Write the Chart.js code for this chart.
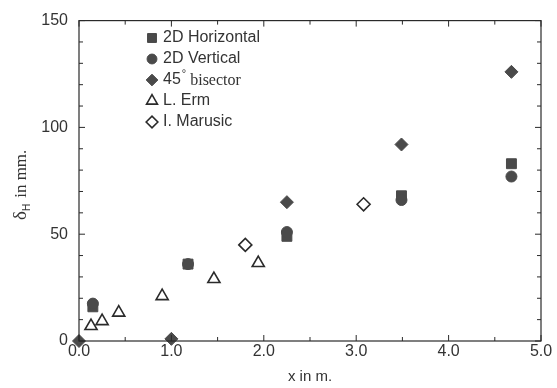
<!DOCTYPE html>
<html lang="en">
<head>
  <meta charset="UTF-8" />
  <title>Boundary layer thickness vs. distance</title>
  <style>
    body { margin: 0; background: #fff; }
    #wrap { width: 557px; height: 388px; }
  </style>
  <script src="https://cdn.jsdelivr.net/npm/chart.js"></script>
</head>
<body>
  <div id="wrap"><canvas id="deltaChart" width="557" height="388"></canvas></div>

  <script>
    // measured thickness (mm) against streamwise position (m)
    const horizX = [0.15, 1.18, 2.25, 3.49, 4.68];
    const horizY = [16, 36, 49, 68, 83];
    const vertX = [0.15, 1.18, 2.25, 3.49, 4.68];
    const vertY = [17.5, 36, 51, 66, 77];
    const bisectX = [0, 1.0, 2.25, 3.49, 4.68];
    const bisectY = [0, 1, 65, 92, 126];
    const ermX = [0.13, 0.25, 0.43, 0.90, 1.46, 1.94];
    const ermY = [7, 9.3, 13.3, 21, 29, 36.5];
    const marusicX = [1.80, 3.08];
    const marusicY = [45, 64];

    const xTicks = [0, 1, 2, 3, 4, 5];
    const yTicks = [0, 50, 100, 150];

    const sans = '"Liberation Sans", Arial, sans-serif';
    const serif = '"Liberation Serif", "Times New Roman", serif';
    const dark = '#4a4a4a';
    const ink = '#2a2a2a';

    const pts = (xs, ys) => xs.map((x, i) => ({ x: x, y: ys[i] }));

    const datasets = [
      { label: '2D Vertical', data: pts(vertX, vertY), pointStyle: 'circle', pointRadius: 5.5,
        backgroundColor: dark, borderColor: dark, borderWidth: 1 },
      { label: '2D Horizontal', data: pts(horizX, horizY), pointStyle: 'rect', pointRadius: 7,
        backgroundColor: dark, borderColor: dark, borderWidth: 1 },
      { label: '45° bisector', data: pts(bisectX, bisectY), pointStyle: 'rectRot', pointRadius: 6.5,
        backgroundColor: dark, borderColor: dark, borderWidth: 1 },
      { label: 'L. Erm', data: pts(ermX, ermY), pointStyle: 'triangle', pointRadius: 7,
        backgroundColor: '#fff', borderColor: ink, borderWidth: 1.6 },
      { label: 'I. Marusic', data: pts(marusicX, marusicY), pointStyle: 'rectRot', pointRadius: 6.5,
        backgroundColor: '#fff', borderColor: ink, borderWidth: 1.6 }
    ];
    datasets.forEach(d => { d.clip = false; d.pointHoverRadius = d.pointRadius; });

    // inward ticks on all four sides, frame, y title and the legend box
    const decor = {
      id: 'decor',
      afterDraw(chart) {
        const ctx = chart.ctx;
        const a = chart.chartArea;
        const xs = chart.scales.x, ys = chart.scales.y;
        ctx.save();
        ctx.strokeStyle = ink;
        ctx.lineWidth = 1.2;
        ctx.strokeRect(a.left, a.top, a.right - a.left, a.bottom - a.top);

        ctx.lineWidth = 1;
        ctx.beginPath();
        for (let v = 0; v <= 5.001; v += 0.5) {
          const px = xs.getPixelForValue(v);
          const len = Math.abs(v - Math.round(v)) < 0.01 ? 6 : 4;
          ctx.moveTo(px, a.bottom); ctx.lineTo(px, a.bottom - len);
          ctx.moveTo(px, a.top); ctx.lineTo(px, a.top + len);
        }
        for (let v = 0; v <= 150; v += 10) {
          const py = ys.getPixelForValue(v);
          const len = v % 50 === 0 ? 6 : 4;
          ctx.moveTo(a.left, py); ctx.lineTo(a.left + len, py);
          ctx.moveTo(a.right, py); ctx.lineTo(a.right - len, py);
        }
        ctx.stroke();

        // y axis title: delta with subscript H
        ctx.translate(26, 182);
        ctx.rotate(-Math.PI / 2);
        ctx.fillStyle = '#333';
        ctx.textBaseline = 'alphabetic';
        ctx.textAlign = 'left';
        let tx = -38;
        ctx.font = '19px ' + serif;
        ctx.fillText('δ', tx, 0);
        tx += ctx.measureText('δ').width;
        ctx.font = '10px ' + sans;
        ctx.fillText('H', tx, 4);
        tx += ctx.measureText('H').width + 6;
        ctx.font = '17px ' + serif;
        ctx.fillText('in mm.', tx, 0);
        ctx.restore();

        // legend
        const order = ['2D Horizontal', '2D Vertical', '45° bisector', 'L. Erm', 'I. Marusic'];
        ctx.save();
        ctx.textBaseline = 'middle';
        ctx.fillStyle = '#333';
        order.forEach((name, i) => {
          const ds = chart.data.datasets.find(d => d.label === name);
          const y = 38 + i * 21;
          const opts = {
            pointStyle: ds.pointStyle, radius: ds.pointRadius * 0.9, rotation: 0,
            borderWidth: ds.borderWidth
          };
          ctx.fillStyle = ds.backgroundColor;
          ctx.strokeStyle = ds.borderColor;
          ctx.lineWidth = ds.borderWidth;
          Chart.helpers.drawPoint(ctx, opts, 152, y);
          ctx.fillStyle = '#333';
          if (name === '45° bisector') {
            ctx.font = '16px ' + sans;
            ctx.fillText('45', 163, y);
            let w = 163 + ctx.measureText('45').width + 1;
            ctx.font = '11px ' + sans;
            ctx.fillText('°', w, y - 6);
            w += ctx.measureText('°').width + 4;
            ctx.font = '16px ' + serif;
            ctx.fillText('bisector', w, y + 1);
          } else {
            ctx.font = '16px ' + sans;
            ctx.fillText(name, 163, y);
          }
        });
        ctx.restore();
      }
    };

    new Chart(document.getElementById('deltaChart'), {
      type: 'scatter',
      data: { datasets: datasets },
      options: {
        responsive: false,
        animation: false,
        events: [],
        layout: { padding: { top: 15, right: 16, left: 0, bottom: 0 } },
        plugins: { legend: { display: false }, tooltip: { enabled: false } },
        scales: {
          x: {
            type: 'linear', min: 0, max: 5,
            afterBuildTicks: s => { s.ticks = xTicks.map(v => ({ value: v })); },
            afterFit: s => { s.height = 47; },
            grid: { display: false, drawTicks: false },
            border: { display: false },
            ticks: {
              padding: 1, color: '#333', maxRotation: 0,
              font: { family: sans, size: 16 },
              callback: v => v.toFixed(1)
            },
            title: {
              display: true, text: 'x in m.', color: '#333', padding: { top: 0, bottom: 2 },
              font: { family: sans, size: 15 }
            }
          },
          y: {
            type: 'linear', min: 0, max: 150,
            afterBuildTicks: s => { s.ticks = yTicks.map(v => ({ value: v })); },
            afterFit: s => { s.width = 79; },
            grid: { display: false, drawTicks: false },
            border: { display: false },
            ticks: {
              padding: 11, color: '#333',
              font: { family: sans, size: 16 }
            }
          }
        }
      },
      plugins: [decor]
    });
  </script>
</body>
</html>
